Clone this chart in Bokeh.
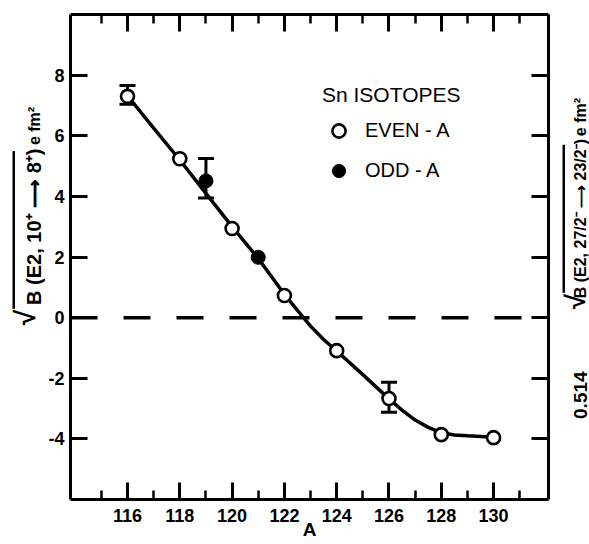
import math
from bokeh.plotting import figure
from bokeh.layouts import row
from bokeh.models import (ColumnDataSource, Whisker, TeeHead, Span, Legend, Label,
                          LegendItem, FixedTicker, LinearAxis, Range1d, BoxAnnotation)
from bokeh.embed import file_html
from bokeh.resources import INLINE

# ---- data ----
even_A = [116, 118, 120, 122, 124, 126, 128, 130]
even_B = [7.30, 5.24, 2.94, 0.73, -1.09, -2.67, -3.86, -3.96]
odd_A = [119, 121]
odd_B = [4.51, 1.99]
err_A = [116, 119, 126]
err_low = [7.04, 3.95, -3.12]
err_high = [7.66, 5.25, -2.13]
curve_A = [116, 117, 118, 119, 120, 121, 122, 122.5, 123, 123.5, 124, 125, 126,
           126.5, 127, 127.5, 128, 128.5, 129, 130]
curve_B = [7.32, 6.25, 5.2, 4.1, 3.0, 1.95, 0.77, 0.24, -0.28, -0.72, -1.1, -1.88, -2.68,
           -3.05, -3.38, -3.62, -3.8, -3.87, -3.9, -3.95]
x_major = [116, 118, 120, 122, 124, 126, 128, 130]
x_minor = [115, 117, 119, 121, 123, 125, 127, 129, 131]
y_major = [-4, -2, 0, 2, 4, 6, 8]
y_labels = ["-4", "-2", "0", "2", "4", "6", "8"]
x_labels = ["116", "118", "120", "122", "124", "126", "128", "130"]

FONT = "Liberation Sans Narrow, Liberation Sans, Arial, sans-serif"

X0, X1 = 113.82, 132.10
Y0, Y1 = -6.0, 10.0
W, H = 589, 544
LW, RW = 45, 29            # side strips holding the rotated axis titles
FL, FR, FT, FB = 70, 548, 14, 499   # frame edges in window pixels

p = figure(width=W - LW - RW, height=H, output_backend="svg", toolbar_location=None,
           x_range=Range1d(X0, X1), y_range=Range1d(Y0, Y1),
           min_border_left=FL - LW, min_border_right=(W - RW) - FR, min_border_top=FT,
           min_border_bottom=H - FB)
p.background_fill_color = "white"
p.border_fill_color = "white"
p.outline_line_color = None
p.xgrid.visible = False
p.ygrid.visible = False


def style_axis(ax, ticks, minor, labels, show_labels):
    ax.ticker = FixedTicker(ticks=ticks, minor_ticks=minor)
    ax.axis_line_width = 3
    ax.axis_line_color = "black"
    ax.major_tick_in = 17
    ax.major_tick_out = 0
    ax.minor_tick_in = 9
    ax.minor_tick_out = 0
    ax.major_tick_line_width = 3
    ax.minor_tick_line_width = 2.5
    ax.major_tick_line_color = "black"
    ax.minor_tick_line_color = "black"
    ax.axis_label_text_font = FONT
    ax.axis_label_text_font_size = "19px"
    ax.axis_label_text_font_style = "bold"
    ax.axis_label_text_color = "black"
    if show_labels:
        ax.major_label_overrides = {t: s for t, s in zip(ticks, labels)}
        ax.major_label_text_font = FONT
        ax.major_label_text_font_size = "18px"
        ax.major_label_text_font_style = "bold"
        ax.major_label_text_color = "black"
    else:
        ax.major_label_text_font_size = "1px"
        ax.major_label_text_color = None
        ax.major_label_standoff = 0


xb = p.xaxis[0]
yl = p.yaxis[0]
style_axis(xb, x_major, x_minor, x_labels, True)
xb.major_label_standoff = 9
xb.axis_label = "A"
xb.axis_label_standoff = -6

style_axis(yl, y_major, [], y_labels, True)
yl.major_label_standoff = 6

xt = LinearAxis()
style_axis(xt, x_major, x_minor, x_labels, False)
p.add_layout(xt, "above")

yr = LinearAxis()
style_axis(yr, y_major, [], y_labels, False)
p.add_layout(yr, "right")

# zero reference line
p.add_layout(Span(location=0, dimension="width", line_color="black",
                  line_width=3.5, line_dash="27 26"))

# smooth curve
p.line(curve_A, curve_B, line_color="black", line_width=3.5)

# error bars
esrc = ColumnDataSource(dict(x=err_A, lo=err_low, hi=err_high))
p.add_layout(Whisker(source=esrc, base="x", lower="lo", upper="hi",
                     line_width=3, line_color="black",
                     upper_head=TeeHead(size=16, line_width=3, line_color="black"),
                     lower_head=TeeHead(size=16, line_width=3, line_color="black")))

r_even = p.scatter(even_A, even_B, marker="circle", size=13, fill_color="white",
                   line_color="black", line_width=2.6)
r_odd = p.scatter(odd_A, odd_B, marker="circle", size=14, fill_color="black",
                  line_color="black", line_width=1)

legend = Legend(items=[LegendItem(label="EVEN - A", renderers=[r_even]),
                       LegendItem(label="ODD - A", renderers=[r_odd])],
                title="Sn ISOTOPES", location=(252, 312), margin=0, padding=0,
                glyph_width=33, glyph_height=33, spacing=7, label_standoff=10,
                title_standoff=7)
legend.border_line_color = None
legend.background_fill_alpha = 0
legend.title_text_font = FONT
legend.title_text_font_size = "21px"
legend.title_text_font_style = "normal"
legend.title_text_color = "black"
legend.label_text_font = FONT
legend.label_text_font_size = "20px"
legend.label_text_color = "black"
p.add_layout(legend)


# ---- side strips: rotated axis titles (coordinates = window pixels) ----
def strip(x_start, width):
    f = figure(width=width, height=H, output_backend="svg", toolbar_location=None,
               x_range=Range1d(x_start, x_start + width), y_range=Range1d(H, 0),
               x_axis_location=None, y_axis_location=None, min_border=0)
    f.min_border_left = f.min_border_right = f.min_border_top = f.min_border_bottom = 0
    f.outline_line_color = None
    f.background_fill_color = "white"
    f.border_fill_color = "white"
    f.xgrid.visible = False
    f.ygrid.visible = False
    return f


def rot_label(f, x, y, text, size):
    f.add_layout(Label(x=x, y=y, text=text, angle=math.pi / 2, text_font=FONT,
                       text_font_size=size, text_font_style="bold",
                       text_align="center", text_baseline="middle",
                       text_color="black"))


pl = strip(0, LW)
rot_label(pl, 25, 340, "\u221a", "28px")
rot_label(pl, 33.5, 238, "B (E2, 10\u207a \u27f6 8\u207a)", "20px")
rot_label(pl, 33.5, 125, "e fm\u00b2", "16px")
pl.add_layout(BoxAnnotation(left=12, right=14.5, top=153, bottom=330,
                            fill_color="black", fill_alpha=1, line_color=None))

pr = strip(W - RW, RW)
rot_label(pr, 579.5, 427, "0.514", "19px")
rot_label(pr, 575, 322, "\u221a", "27px")
rot_label(pr, 579.5, 229, "B (E2, 27/2\u207b \u27f6 23/2\u207b)", "16px")
rot_label(pr, 579.5, 115, "e fm\u00b2", "16px")
pr.add_layout(BoxAnnotation(left=562, right=564.5, top=146, bottom=312,
                            fill_color="black", fill_alpha=1, line_color=None))

layout = row(pl, p, pr, spacing=0)
open("out.html", "w").write(file_html(layout, INLINE))
